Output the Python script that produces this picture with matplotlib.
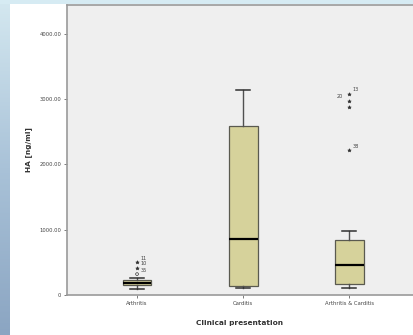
import matplotlib.pyplot as plt
import numpy as np
from matplotlib.colors import LinearSegmentedColormap

# data (HA in ng/ml)
categories = ["Arthritis", "Carditis", "Arthritis & Carditis"]
whisker_low = [95, 110, 105]
q1 = [150, 140, 170]
medians = [190, 860, 460]
q3 = [225, 2590, 840]
whisker_high = [265, 3140, 980]

# outliers: (category index, value, case label, marker)
out_cat = [1, 1, 1, 3, 3, 3, 3]
out_val = [320, 420, 505, 3080, 2975, 2880, 2215]
out_lab = ["35", "10", "11", "13", "20", "", "38"]
out_mark = ["o", "*", "*", "*", "*", "*", "*"]

yticks = [0, 1000, 2000, 3000, 4000]
ytick_labels = ["0", "1000.00", "2000.00", "3000.00", "4000.00"]

fig = plt.figure(figsize=(4.13, 3.35), dpi=100)
fig.patch.set_facecolor("white")

# blue slide decoration: left gradient strip and top band
bg = fig.add_axes([0, 0, 10 / 413, 1])
grad = np.linspace(0, 1, 256).reshape(-1, 1)
cmap = LinearSegmentedColormap.from_list("slide", ["#d4e8f0", "#a9c2d8", "#8ba5c2"])
bg.imshow(grad, aspect="auto", cmap=cmap, extent=[0, 1, 0, 1])
bg.axis("off")
top = fig.add_axes([0, 1 - 4 / 335, 1, 4 / 335])
top.set_facecolor("#d6ebf3")
top.set_xticks([])
top.set_yticks([])
for s in top.spines.values():
    s.set_visible(False)

ax = fig.add_axes([67 / 413, 40 / 335, 1 - 67 / 413, 290 / 335])
ax.set_facecolor("#efefef")

stats = []
for i in range(len(categories)):
    stats.append(dict(med=medians[i], q1=q1[i], q3=q3[i],
                      whislo=whisker_low[i], whishi=whisker_high[i],
                      fliers=[], label=categories[i]))

ax.bxp(stats, positions=[1, 2, 3], widths=0.27, patch_artist=True,
       showfliers=False,
       boxprops=dict(facecolor="#d6d29b", edgecolor="#5a5a50", linewidth=0.9),
       medianprops=dict(color="black", linewidth=1.6),
       whiskerprops=dict(color="#505050", linewidth=1.0),
       capprops=dict(color="#303030", linewidth=1.1),
       capwidths=0.13)

for c, v, lab, m in zip(out_cat, out_val, out_lab, out_mark):
    ax.scatter([c], [v], marker=m, s=6 if m == "*" else 4,
               facecolor="none" if m == "o" else "#333333",
               edgecolor="#333333", linewidth=0.5, zorder=3)
    if lab:
        dx = -0.09 if lab == "20" else 0.06
        ax.text(c + dx, v + 60, lab, fontsize=3.6, color="#444444",
                ha="center", va="center")

ax.set_xlim(0.34, 3.6)
ax.set_ylim(0, 4440)
ax.set_xticks([1, 2, 3])
ax.set_xticklabels(categories, fontsize=3.8, color="#444444")
ax.set_yticks(yticks)
ax.set_yticklabels(ytick_labels, fontsize=3.8, color="#444444")
ax.tick_params(length=2.5, width=0.6, color="#666666", pad=1.5)

for side in ["left", "bottom", "top"]:
    ax.spines[side].set_color("#9a9a9a")
    ax.spines[side].set_linewidth(1.2)
ax.spines["right"].set_visible(False)

ax.set_xlabel("Clinical presentation", fontsize=5.3, fontweight="bold",
              color="#333333")
ax.xaxis.set_label_coords(0.5, -0.085)
ax.set_ylabel("HA [ng/ml]", fontsize=5.3, fontweight="bold",
              color="#333333")
ax.yaxis.set_label_coords(-0.1, 0.5)

fig.savefig("out.png", dpi=100)
